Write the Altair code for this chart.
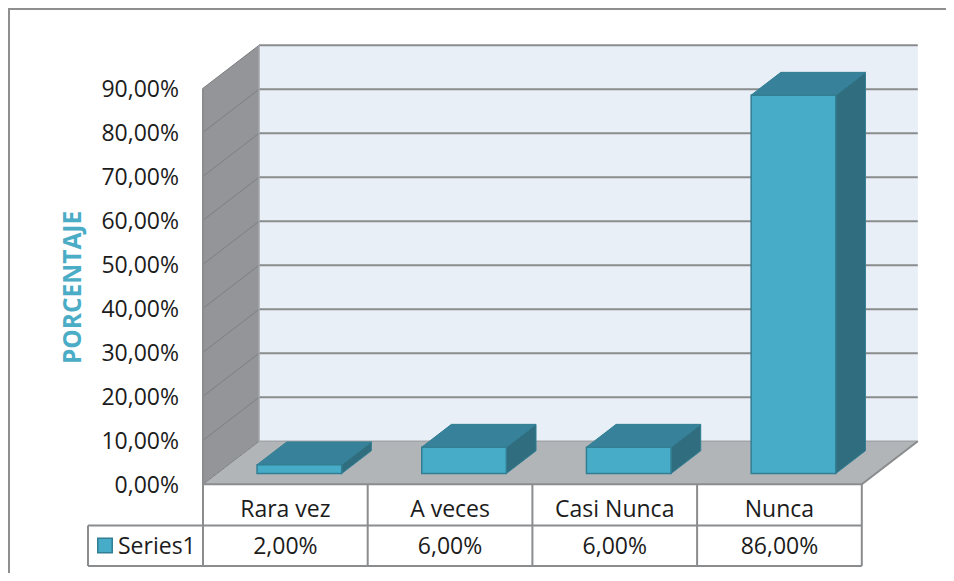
import altair as alt
import pandas as pd

CATEGORIES = ["Rara vez", "A veces", "Casi Nunca", "Nunca"]
VALUES = [2, 6, 6, 86]
VALUE_LABELS = ["2,00%", "6,00%", "6,00%", "86,00%"]
SERIES = "Series1"
TICKS = [0, 10, 20, 30, 40, 50, 60, 70, 80, 90]
AXIS_TITLE = "PORCENTAJE"

# geometry of the oblique projection
ORIGIN_X, ORIGIN_Y = 203.0, 484.3
CAT_W, PCT_H = 164.7, 4.40
DEPTH_X = 56.0 / CAT_W
DEPTH_Y = 43.0 / PCT_H
BAR_HALF = 42.3 / CAT_W
BAR_SHIFT = 0.0
D0, D1 = 0.25, 0.78
YMAX = 90
NCAT = len(CATEGORIES)
BOTTOM_PX = 573
RIGHT_PX = 946

FONT = "Open Sans"
FS = 23
GRID = "#8a8c8e"
TEXTC = "#1c1c1c"


def U(px):
    return (px - ORIGIN_X) / CAT_W


def P(py):
    return (ORIGIN_Y - py) / PCT_H


xscale = alt.Scale(domain=[0, U(RIGHT_PX)], nice=False, zero=False)
yscale = alt.Scale(domain=[P(BOTTOM_PX), P(8)], nice=False, zero=False)
X = alt.X("x:Q", scale=xscale, axis=None)
Y = alt.Y("y:Q", scale=yscale, axis=None)


def vface(rows, **mk):
    """faces with vertical edges: (key, x, y, y2)"""
    df = pd.DataFrame(rows, columns=["k", "x", "y", "y2"])
    return alt.Chart(df).mark_area(orient="vertical", **mk).encode(
        x=X, y=Y, y2="y2:Q", detail="k:N")


def hface(rows, **mk):
    """faces with horizontal edges: (key, y, x, x2)"""
    df = pd.DataFrame(rows, columns=["k", "y", "x", "x2"])
    return alt.Chart(df).mark_area(orient="horizontal", **mk).encode(
        y=Y, x=X, x2="x2:Q", detail="k:N")


def lines(rows, **mk):
    df = pd.DataFrame(rows, columns=["k", "x", "y"])
    return alt.Chart(df).mark_line(**mk).encode(x=X, y=Y, detail="k:N")


def texts(rows, **mk):
    df = pd.DataFrame(rows, columns=["x", "y", "t"])
    return alt.Chart(df).mark_text(font=FONT, color=TEXTC, baseline="middle", **mk).encode(
        x=X, y=Y, text="t:N")


# walls and floor
back = vface([("b", DEPTH_X, DEPTH_Y, YMAX + DEPTH_Y),
              ("b", NCAT + DEPTH_X, DEPTH_Y, YMAX + DEPTH_Y)], color="#e8eff7")
left = vface([("l", 0, 0, YMAX), ("l", DEPTH_X, DEPTH_Y, YMAX + DEPTH_Y)], color="#939598")
floor = hface([("f", 0, 0, NCAT), ("f", DEPTH_Y, DEPTH_X, NCAT + DEPTH_X)], color="#b1b5b8")

# grid
grid_rows, slant_rows = [], []
for t in TICKS:
    if t > 0:
        grid_rows += [(t, DEPTH_X, t + DEPTH_Y), (t, NCAT + DEPTH_X, t + DEPTH_Y)]
    slant_rows += [(t, 0, t), (t, DEPTH_X, t + DEPTH_Y)]
grid = lines(grid_rows, color=GRID, strokeWidth=2)
slant = lines(slant_rows, color="#7d7f82", strokeWidth=1)
edges = lines([("e", 0, YMAX), ("e", 0, 0), ("e", NCAT, 0), ("e", NCAT + DEPTH_X, DEPTH_Y)],
              color=GRID, strokeWidth=2, order=False)
edges2 = lines([("w", DEPTH_X, DEPTH_Y + YMAX), ("w", DEPTH_X, DEPTH_Y),
                ("w", NCAT + DEPTH_X, DEPTH_Y)], color="#a3a6a9", strokeWidth=1.5, order=False)

# bars
side_rows, top_rows, front_rows = [], [], []
for i, v in enumerate(VALUES):
    c = i + 0.5 + BAR_SHIFT + D0 * DEPTH_X
    l0, r0 = c - BAR_HALF, c + BAR_HALF
    base = D0 * DEPTH_Y
    dx, dy = (D1 - D0) * DEPTH_X, (D1 - D0) * DEPTH_Y
    side_rows += [(i, r0, base, base + v), (i, r0 + dx, base + dy, base + dy + v)]
    top_rows += [(i, base + v, l0, r0), (i, base + v + dy, l0 + dx, r0 + dx)]
    front_rows += [(i, l0, base, base + v), (i, r0, base, base + v)]
EDGE = "#327e93"
side = vface(side_rows, color="#2f6d7f", stroke=EDGE, strokeWidth=1)
top = hface(top_rows, color="#37829a", stroke=EDGE, strokeWidth=1)
front = vface(front_rows, color="#47acc8", stroke=EDGE, strokeWidth=1.5)

# table
ROW0, ROW1, ROW2 = ORIGIN_Y, 525.5, 566.0
LEG_X = U(88)
tbl = []
for n, x in enumerate([0, 1, 2, 3, 4]):
    tbl += [(f"v{n}", x, P(ROW0)), (f"v{n}", x, P(ROW2))]
tbl += [("h1", LEG_X, P(ROW1)), ("h1", NCAT, P(ROW1)),
        ("h2", LEG_X, P(ROW2)), ("h2", NCAT, P(ROW2)),
        ("v9", LEG_X, P(ROW1)), ("v9", LEG_X, P(ROW2))]
table = lines(tbl, color=GRID, strokeWidth=2)
frame = lines([("fr", U(9), P(BOTTOM_PX)), ("fr", U(9), P(9)), ("fr", U(RIGHT_PX), P(9))],
              color="#8f8f8f", strokeWidth=2, order=False)

cat_text = texts([(i + 0.5, P(509.5), c) for i, c in enumerate(CATEGORIES)],
                 fontSize=FS, align="center")
val_text = texts([(i + 0.5, P(546.5), c) for i, c in enumerate(VALUE_LABELS)],
                 fontSize=FS, align="center")
ser_text = texts([(U(118), P(546.5), SERIES)], fontSize=FS, align="left")
swatch = alt.Chart(pd.DataFrame({"x": [U(105)], "y": [P(545.5)]})).mark_square(
    size=210, color="#47acc8", stroke=EDGE, strokeWidth=1.5, opacity=1).encode(x=X, y=Y)

# real y axis
axis_layer = alt.Chart(pd.DataFrame({"y": TICKS})).mark_point(opacity=0).encode(
    y=alt.Y("y:Q", scale=yscale, title=AXIS_TITLE, axis=alt.Axis(
        values=TICKS, grid=False, domain=False, ticks=False, labelPadding=24.5, labelOffset=1.5,
        labelExpr="replace(format(datum.value, '.2f'), '.', ',') + '%'",
        labelFont=FONT, labelFontSize=FS, labelColor=TEXTC,
        titleFont=FONT, titleFontSize=24.5, titleFontWeight="bold", titleColor="#4bacc6",
        titleX=-130, titleY=279, titleAlign="center", titleBaseline="middle")),
    x=alt.value(0))

chart = alt.layer(
    frame, back, left, floor, grid, slant, edges2, edges,
    side, top, front, table, cat_text, val_text, ser_text, swatch, axis_layer
).resolve_axis(y="independent").properties(
    width=RIGHT_PX - ORIGIN_X, height=BOTTOM_PX - 8, background="white",
    padding={"left": ORIGIN_X - 8, "top": 0, "right": 0, "bottom": 0},
    autosize="none",
).configure_view(stroke=None)

chart.save("out.html", embed_options={"renderer": "svg", "actions": False})
